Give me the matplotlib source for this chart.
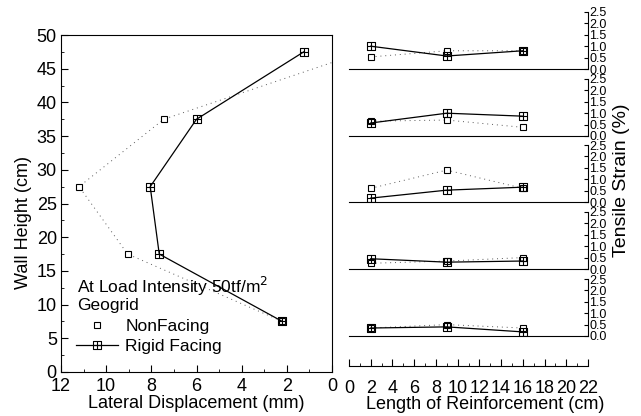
import matplotlib
matplotlib.use('Agg')
import matplotlib.pyplot as plt
from matplotlib.path import Path
from matplotlib.lines import Line2D
from matplotlib.ticker import MultipleLocator, FormatStrFormatter

plt.rcParams['font.family'] = ['Liberation Sans', 'DejaVu Sans']

# lateral displacement profile (mm) vs wall height (cm)
height = [47.5, 37.5, 27.5, 17.5, 7.5]
disp_rigid = [1.25, 6.0, 8.05, 7.65, 2.2]
disp_nonfacing = [-1.4, 7.45, 11.2, 9.05, 2.2]

# tensile strain (%) along reinforcement, one row per layer (top to bottom)
reinf_len = [2, 9, 16]
strain_rigid = [
    [1.0, 0.57, 0.8],
    [0.57, 1.0, 0.87],
    [0.17, 0.52, 0.65],
    [0.45, 0.3, 0.35],
    [0.35, 0.4, 0.18],
]
strain_nonfacing = [
    [0.53, 0.8, 0.8],
    [0.65, 0.7, 0.38],
    [0.6, 1.4, 0.6],
    [0.25, 0.35, 0.5],
    [0.35, 0.5, 0.35],
]

W, H = 641, 416
fig = plt.figure(figsize=(W / 100, H / 100), dpi=100)

# square with a cross inside
box_plus = Path(
    [(-1, -1), (1, -1), (1, 1), (-1, 1), (-1, -1), (0, -1), (0, 1), (-1, 0), (1, 0)],
    [Path.MOVETO, Path.LINETO, Path.LINETO, Path.LINETO, Path.CLOSEPOLY,
     Path.MOVETO, Path.LINETO, Path.MOVETO, Path.LINETO])

rigid_kw = dict(color='black', lw=0.9, marker=box_plus, ms=5.5, mfc='none', mec='black', mew=0.8)
nonf_kw = dict(color='0.35', lw=0.7, ls=(0, (1, 4)), marker='s', ms=5, mfc='white', mec='black', mew=0.8)

# ---- left: lateral displacement
ax = fig.add_axes([61 / W, 1 - 372 / H, 271 / W, 337 / H])
ax.plot(disp_nonfacing, height, **nonf_kw)
ax.plot(disp_rigid, height, **rigid_kw)
ax.set_xlim(12, 0)
ax.set_ylim(0, 50)
ax.xaxis.set_major_locator(MultipleLocator(2))
ax.xaxis.set_minor_locator(MultipleLocator(1))
ax.yaxis.set_major_locator(MultipleLocator(5))
ax.yaxis.set_minor_locator(MultipleLocator(2.5))
ax.tick_params(which='both', direction='in', top=False, right=False, labelsize=13)
ax.tick_params(axis='x', pad=4)
ax.tick_params(axis='y', pad=3)
ax.tick_params(which='major', length=5)
ax.tick_params(which='minor', length=2.5)
ax.set_xlabel('Lateral Displacement (mm)', fontsize=13, labelpad=0)
ax.set_ylabel('Wall Height (cm)', fontsize=13)
ax.yaxis.set_label_coords(-0.107, 0.445)

ax.text(0.059, 0.255, 'At Load Intensity 50tf/m$^2$', transform=ax.transAxes,
        fontsize=12.5, va='center', ha='left')
ax.text(0.059, 0.196, 'Geogrid', transform=ax.transAxes, fontsize=12.5, va='center', ha='left')
handles = [Line2D([], [], ls='none', marker='s', ms=5, mfc='white', mec='black', mew=0.8),
           Line2D([], [], **rigid_kw)]
ax.legend(handles, ['NonFacing', 'Rigid Facing'], loc='lower left', bbox_to_anchor=(0.055, 0.052),
          frameon=False, fontsize=12.5, handlelength=2.4, handletextpad=0.45, labelspacing=0.3,
          borderpad=0, borderaxespad=0)

# ---- right: tensile strain, five stacked layers
zero_rows = [69, 136, 202, 269, 336]
for i, z in enumerate(zero_rows):
    a = fig.add_axes([349 / W, 1 - z / H, 239 / W, 57 / H])
    a.patch.set_alpha(0)
    a.plot(reinf_len, strain_nonfacing[i], **nonf_kw)
    a.plot(reinf_len, strain_rigid[i], **rigid_kw)
    a.set_xlim(0, 22)
    a.set_ylim(0, 2.5)
    a.spines['top'].set_visible(False)
    a.spines['left'].set_visible(False)
    a.set_xticks([])
    a.yaxis.tick_right()
    a.yaxis.set_major_locator(MultipleLocator(0.5))
    a.yaxis.set_major_formatter(FormatStrFormatter('%.1f'))
    a.tick_params(axis='y', direction='in', length=3, labelsize=9, pad=1)

# shared bottom axis for reinforcement length
bx = fig.add_axes([349 / W, 1 - 366 / H, 239 / W, 0.02])
bx.patch.set_alpha(0)
for s in ['top', 'left', 'right']:
    bx.spines[s].set_visible(False)
bx.set_yticks([])
bx.set_xlim(0, 22)
bx.xaxis.set_major_locator(MultipleLocator(2))
bx.xaxis.set_minor_locator(MultipleLocator(1))
bx.tick_params(which='both', direction='in', labelsize=13, pad=10)
bx.tick_params(which='major', length=5)
bx.tick_params(which='minor', length=2.5)
bx.set_xlabel('Length of Reinforcement (cm)', fontsize=13)
bx.xaxis.set_label_coords(0.57, -3.55)

fig.text(621 / W, 1 - 180 / H, 'Tensile Strain (%)', rotation=90, fontsize=14,
         ha='center', va='center')

fig.savefig('out.png', dpi=100)
